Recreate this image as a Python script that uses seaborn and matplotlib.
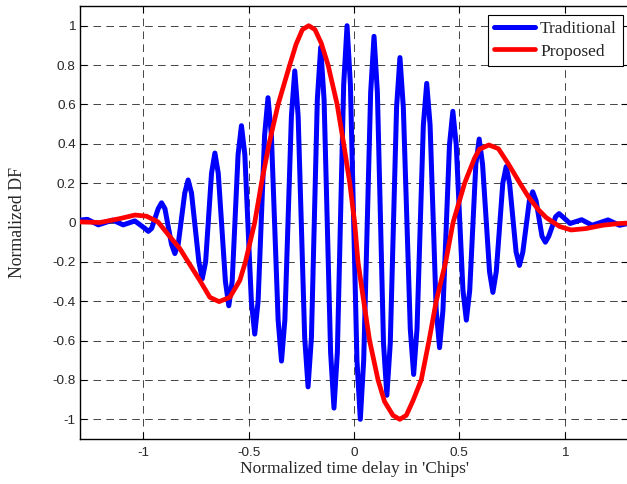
import matplotlib
matplotlib.use("Agg")
import matplotlib.pyplot as plt
import seaborn as sns
import pandas as pd

# ---- data (points along each curve) ----
trad_x = [-1.300, -1.265, -1.213, -1.145, -1.095, -1.040,
          -0.992, -0.976, -0.960,
          -0.929, -0.913, -0.897,
          -0.866, -0.850, -0.834,
          -0.803, -0.787, -0.771,
          -0.736, -0.720, -0.704,
          -0.676, -0.660, -0.644,
          -0.610, -0.594, -0.578,
          -0.550, -0.534, -0.518,
          -0.487, -0.471, -0.455,
          -0.424, -0.408, -0.392,
          -0.360, -0.344, -0.328,
          -0.297, -0.281, -0.265,
          -0.234, -0.218, -0.202,
          -0.174, -0.158, -0.142,
          -0.111, -0.095, -0.079,
          -0.049, -0.033, -0.017,
          0.014, 0.030, 0.046,
          0.079, 0.095, 0.111,
          0.140, 0.156, 0.172,
          0.202, 0.218, 0.234,
          0.267, 0.283, 0.299,
          0.329, 0.345, 0.361,
          0.390, 0.406, 0.422,
          0.453, 0.469, 0.485,
          0.517, 0.533, 0.549,
          0.578, 0.594, 0.610,
          0.643, 0.659, 0.675,
          0.706, 0.722, 0.738,
          0.769, 0.785, 0.801,
          0.832, 0.848, 0.864,
          0.892, 0.908, 0.924,
          0.957, 0.973, 0.989,
          1.025, 1.080, 1.130, 1.205, 1.260, 1.300]
trad_y = [0.012, 0.016, -0.012, 0.012, -0.012, 0.008,
          -0.030, -0.045, -0.030,
          0.070, 0.100, 0.070,
          -0.110, -0.158, -0.110,
          0.150, 0.216, 0.150,
          -0.200, -0.286, -0.200,
          0.250, 0.353, 0.250,
          -0.300, -0.423, -0.300,
          0.345, 0.492, 0.345,
          -0.400, -0.567, -0.400,
          0.445, 0.634, 0.445,
          -0.495, -0.704, -0.495,
          0.540, 0.770, 0.540,
          -0.585, -0.835, -0.585,
          0.625, 0.890, 0.625,
          -0.660, -0.943, -0.660,
          0.700, 1.000, 0.700,
          -0.700, -1.000, -0.700,
          0.660, 0.946, 0.660,
          -0.615, -0.878, -0.615,
          0.585, 0.838, 0.585,
          -0.540, -0.772, -0.540,
          0.495, 0.707, 0.495,
          -0.445, -0.636, -0.445,
          0.395, 0.565, 0.395,
          -0.345, -0.496, -0.345,
          0.295, 0.424, 0.295,
          -0.250, -0.355, -0.250,
          0.200, 0.284, 0.200,
          -0.150, -0.218, -0.150,
          0.110, 0.156, 0.110,
          -0.070, -0.100, -0.070,
          0.030, 0.045, 0.030,
          -0.005, 0.014, -0.014, 0.013, -0.014, -0.005]

prop_x = [-1.300, -1.205, -1.110, -1.039, -0.984, -0.930, -0.875, -0.826, -0.787, -0.731,
          -0.684, -0.640, -0.589, -0.542, -0.515, -0.471, -0.439, -0.403, -0.360, -0.305,
          -0.275, -0.245, -0.215, -0.185, -0.155, -0.123, -0.080, -0.049, -0.020, 0.003,
          0.019, 0.046, 0.074, 0.114, 0.145, 0.185, 0.217, 0.248, 0.280, 0.319,
          0.356, 0.390, 0.435, 0.470, 0.525, 0.572, 0.595, 0.640, 0.685, 0.731,
          0.787, 0.826, 0.875, 0.912, 0.975, 1.030, 1.100, 1.180, 1.260, 1.300]
prop_y = [0.003, 0.000, 0.020, 0.038, 0.032, 0.003, -0.070, -0.133, -0.200, -0.295,
          -0.380, -0.402, -0.380, -0.295, -0.200, 0.000, 0.200, 0.400, 0.600, 0.800,
          0.905, 0.980, 1.000, 0.980, 0.910, 0.800, 0.600, 0.400, 0.200, 0.000,
          -0.200, -0.400, -0.600, -0.800, -0.910, -0.980, -1.000, -0.980, -0.905, -0.800,
          -0.600, -0.400, -0.200, 0.000, 0.200, 0.327, 0.372, 0.394, 0.375, 0.300,
          0.200, 0.133, 0.065, 0.025, -0.020, -0.038, -0.031, -0.014, -0.005, -0.003]

x_ticks = [-1, -0.5, 0, 0.5, 1]
x_tick_labels = ['-1', '-0.5', '0', '0.5', '1']
y_ticks = [-1, -0.8, -0.6, -0.4, -0.2, 0, 0.2, 0.4, 0.6, 0.8, 1]
y_tick_labels = ['-1', '-0.8', '-0.6', '-0.4', '-0.2', '0', '0.2', '0.4', '0.6', '0.8', '1']

sns.set_style("white")
plt.rcParams['axes.unicode_minus'] = False
plt.rcParams['lines.scale_dashes'] = False

fig = plt.figure(figsize=(6.27, 4.84), dpi=100)
ax = fig.add_axes([80/627, 45/484, 548/627, 433/484])

df_t = pd.DataFrame({'x': trad_x, 'y': trad_y})
df_p = pd.DataFrame({'x': prop_x, 'y': prop_y})
sns.lineplot(data=df_t, x='x', y='y', ax=ax, color=(0, 0, 1), lw=3.6,
             sort=False, estimator=None, label='Traditional', zorder=3)
sns.lineplot(data=df_p, x='x', y='y', ax=ax, color=(1, 0, 0), lw=3.4,
             sort=False, estimator=None, label='Proposed', zorder=4)

ax.set_xlim(-1.3, 1.3)
ax.set_ylim(-1.1, 1.1)
ax.set_xticks(x_ticks)
ax.set_xticklabels(x_tick_labels, fontfamily='Liberation Sans', fontsize=9.7)
ax.set_yticks(y_ticks)
ax.set_yticklabels(y_tick_labels, fontfamily='Liberation Sans', fontsize=9.7)
ax.tick_params(direction='in', length=5, width=0.8, top=True, right=True,
               bottom=True, left=True, color='black', pad=3)
ax.tick_params(axis='x', pad=6)

ax.grid(True, linestyle=(0, (5.5, 3.8)), color='black', lw=0.6, alpha=0.85)
for s in ax.spines.values():
    s.set_visible(True)
    s.set_color('black')
    s.set_linewidth(1.0)

ax.set_xlabel("Normalized time delay in 'Chips'", fontfamily='Liberation Serif',
              fontsize=12.5, labelpad=1)
ax.set_ylabel("Normalized DF", fontfamily='Liberation Serif', fontsize=12.8, labelpad=19)

leg = ax.legend(loc='upper right', bbox_to_anchor=(0.991, 0.979), borderaxespad=0,
                prop={'family': 'Liberation Serif', 'size': 12.5},
                handlelength=2.35, handletextpad=0.3, labelspacing=0.35,
                borderpad=0.35, fancybox=False, framealpha=1, edgecolor='black')
leg.get_frame().set_linewidth(0.8)

fig.savefig("out.png", dpi=100)
